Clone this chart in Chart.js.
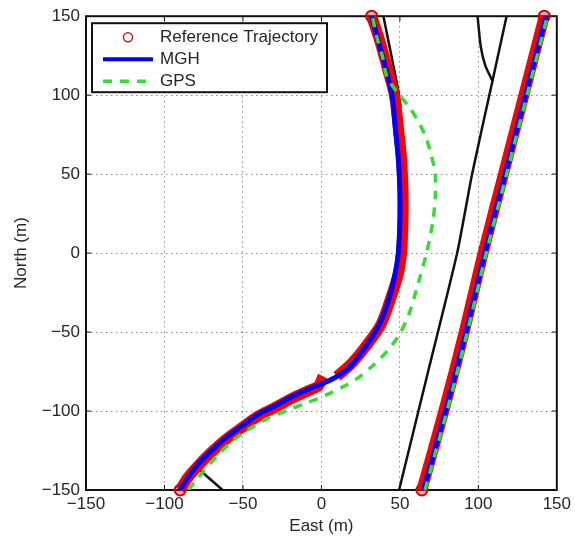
<!DOCTYPE html>
<html>
<head>
<meta charset="utf-8">
<script src="https://cdn.jsdelivr.net/npm/chart.js@4/dist/chart.umd.min.js"></script>
<style>
  html, body { margin: 0; background: #fff; }
</style>
</head>
<body>
<canvas id="chart" width="575" height="537"></canvas>
<script>
// Trajectories in metres, [east, north].
const axisTicks = [-150, -100, -50, 0, 50, 100, 150];
const legendLabels = ['Reference Trajectory', 'MGH', 'GPS'];

const refWestA = [[-90,-150],[-85,-142],[-78,-134],[-70,-126],[-61,-118],[-50,-110],[-40,-103],[-30,-98],[-19,-92],[-8,-87],[-2,-84],[1,-78]];
const refWestB = [[10,-78],[19,-70],[29,-58],[38,-45],[44,-29],[49,-13],[51,0],[52,20],[52,40],[51,60],[49,80],[46.5,100],[42,117],[37,135],[32,150]];
const refEast  = [[64,-150],[78,-100],[91,-50],[103,0],[116,50],[129,100],[142,150]];

const mghWest = [[-90,-150],[-85,-142],[-78,-133],[-70,-125],[-61,-117],[-50,-109],[-40,-102],[-30,-97],[-19,-91],[-8,-86],[2,-82],[10,-78],[19,-71],[29,-58],[37,-45],[43,-29],[47,-13],[49,0],[50,20],[50,40],[49,60],[47,80],[45,100],[41,117],[36,135],[32,150]];
const mghEast = [[65,-150],[79,-100],[92,-50],[104,0],[117,50],[130,100],[143,150]];

const gpsWest = [[-85,-150],[-80,-144],[-75,-138],[-67,-129],[-58,-120],[-47,-112],[-35,-105],[-23,-100],[-10,-95],[-2,-92],[7,-88],[15,-84],[22,-80],[33,-71],[42,-62],[50,-51],[56,-38],[62,-18],[67,0],[71,20],[72.5,35],[72.5,50],[70,62],[67,72],[63,81],[57,91],[49,101],[42,111],[39,124],[35,138],[32.5,150]];
const gpsEast = [[66,-150],[80,-100],[93,-50],[105,0],[118,50],[131,100],[144,150]];

// Road edges (black).
const roadNorth  = [[39.5,150],[49,103],[50.5,92]];
const roadCentre = [[49.5,-150],[68,-75],[86.5,0],[96,50],[109,109],[118,150]];
const roadFork   = [[109,109],[104.5,118.5],[101.5,131],[99.5,150]];
const roadSouth  = [[-79,-136],[-63,-150]];

const C = { ref: '#ff0000', mgh: '#0000ff', gps: '#33dd33', road: '#111111', grid: '#8a8a8a', text: '#262626' };
const FONT = { family: '"Liberation Sans", Arial, Helvetica, sans-serif', size: 17 };
const GPS_DASH = [9, 8];

const pts = arr => arr.map(([x, y]) => ({ x, y }));
const fmtTick = v => (v < 0 ? '\u2212' + (-v) : String(v));

// Reference markers are so dense they read as a thick band; ring only the
// start / end points on the plot edges.
function refSet(arr) {
  return {
    data: pts(arr), showLine: true, tension: 0.3, order: 3, clip: false,
    borderColor: C.ref, borderWidth: 11,
    pointRadius: c => (c.raw && Math.abs(c.raw.y) === 150 ? 5.5 : 0),
    pointBorderWidth: 2, pointBorderColor: '#d80000',
    pointBackgroundColor: 'rgba(255,0,0,0.35)',
  };
}
function mghSet(arr) {
  return { data: pts(arr), showLine: true, tension: 0.3, order: 2,
    borderColor: C.mgh, borderWidth: 5, pointRadius: 0 };
}
function gpsSet(arr) {
  return { data: pts(arr), showLine: true, tension: 0.3, order: 1,
    borderColor: C.gps, borderWidth: 3.5, borderDash: GPS_DASH, pointRadius: 0 };
}
function roadSet(arr) {
  return { data: pts(arr), showLine: true, tension: 0.2, order: 4,
    borderColor: C.road, borderWidth: 2.5, pointRadius: 0 };
}

// Box round the axes, inward tick marks, and the boxed legend (MATLAB look).
const framePlugin = {
  id: 'frame',
  beforeDatasetsDraw(chart) {
    const { ctx, chartArea: a, scales: { x, y } } = chart;
    ctx.save();
    ctx.strokeStyle = '#111';
    ctx.lineWidth = 1;
    ctx.beginPath();
    for (const v of axisTicks.slice(1, -1)) {
      const px = x.getPixelForValue(v), py = y.getPixelForValue(v);
      ctx.moveTo(px, a.bottom); ctx.lineTo(px, a.bottom - 5);
      ctx.moveTo(px, a.top); ctx.lineTo(px, a.top + 5);
      ctx.moveTo(a.left, py); ctx.lineTo(a.left + 5, py);
      ctx.moveTo(a.right, py); ctx.lineTo(a.right - 5, py);
    }
    ctx.stroke();
    ctx.lineWidth = 2;
    ctx.strokeRect(a.left, a.top, a.right - a.left, a.bottom - a.top);
    ctx.restore();
  },
  afterDraw(chart) {
    const { ctx, chartArea: a } = chart;
    const bx = a.left + 6, by = a.top + 7, bw = 235, bh = 69;
    ctx.save();
    ctx.fillStyle = '#fff';
    ctx.fillRect(bx, by, bw, bh);
    ctx.strokeStyle = '#111';
    ctx.lineWidth = 2;
    ctx.strokeRect(bx, by, bw, bh);
    const rows = [by + 14, by + 36, by + 58];
    const x0 = bx + 11, x1 = bx + 61;
    // reference marker
    ctx.strokeStyle = '#c02020'; ctx.lineWidth = 1.5;
    ctx.beginPath(); ctx.arc((x0 + x1) / 2, rows[0], 4.5, 0, Math.PI * 2); ctx.stroke();
    // MGH
    ctx.strokeStyle = C.mgh; ctx.lineWidth = 4;
    ctx.beginPath(); ctx.moveTo(x0, rows[1]); ctx.lineTo(x1, rows[1]); ctx.stroke();
    // GPS
    ctx.strokeStyle = C.gps; ctx.lineWidth = 3.5; ctx.setLineDash(GPS_DASH);
    ctx.beginPath(); ctx.moveTo(x0, rows[2]); ctx.lineTo(x1, rows[2]); ctx.stroke();
    ctx.setLineDash([]);
    ctx.fillStyle = C.text;
    ctx.font = `${FONT.size}px ${FONT.family}`;
    ctx.textBaseline = 'middle';
    legendLabels.forEach((t, i) => ctx.fillText(t, bx + 68, rows[i]));
    ctx.restore();
  },
};

const gridColor = c => (Math.abs(c.tick.value) === 150 ? 'rgba(0,0,0,0)' : C.grid);

new Chart(document.getElementById('chart'), {
  type: 'scatter',
  data: {
    datasets: [
      refSet(refWestA), refSet(refWestB), refSet(refEast),
      mghSet(mghWest), mghSet(mghEast),
      gpsSet(gpsWest), gpsSet(gpsEast),
      roadSet(roadNorth), roadSet(roadCentre), roadSet(roadFork), roadSet(roadSouth),
    ],
  },
  options: {
    responsive: false,
    animation: false,
    events: [],
    layout: { padding: { top: 14, right: 13, left: 0, bottom: 0 } },
    plugins: { legend: { display: false }, tooltip: { enabled: false } },
    scales: {
      x: {
        type: 'linear', min: -150, max: 150,
        ticks: { stepSize: 50, padding: 4, maxRotation: 0, autoSkip: false,
          color: C.text, font: FONT, callback: fmtTick },
        grid: { color: gridColor, lineWidth: 1, drawTicks: false },
        border: { display: false, dash: [1.5, 3.5] },
        title: { display: true, text: 'East (m)', color: C.text, font: FONT, padding: { top: 0, bottom: 0 } },
        afterFit: s => { s.height = 47; },
      },
      y: {
        type: 'linear', min: -150, max: 150,
        ticks: { stepSize: 50, padding: 6, autoSkip: false,
          color: C.text, font: FONT, callback: fmtTick },
        grid: { color: gridColor, lineWidth: 1, drawTicks: false },
        border: { display: false, dash: [1.5, 3.5] },
        title: { display: true, text: 'North (m)', color: C.text, font: FONT, padding: { top: 11.5, bottom: 0 } },
        afterFit: s => { s.width = 86; },
      },
    },
  },
  plugins: [framePlugin],
});
</script>
</body>
</html>
